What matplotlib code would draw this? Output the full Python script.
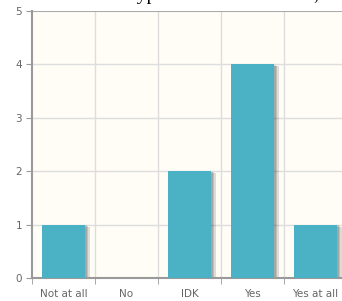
import numpy as np
import matplotlib.pyplot as plt
from matplotlib.patches import Rectangle

# data
categories = ['Not at all', 'No', 'IDK', 'Yes', 'Yes at all']
counts = [1, 0, 2, 4, 1]
yticks = [0, 1, 2, 3, 4, 5]

fig = plt.figure(figsize=(3.42, 3.01), dpi=100)
ax = fig.add_axes([32/342, 23/301, 315/342, 267/301])
ax.set_facecolor('#fffdf6')

x = np.arange(len(categories)) + 0.5
w = 43/63

# shadow layers under the bars
for k in range(1, 4):
    off = k * 1.6/63
    for xi, c in zip(x, counts):
        if c > 0:
            ax.add_patch(Rectangle((xi - w/2 + off, 0), w, c - k*0.012,
                                   facecolor='black', alpha=0.13, lw=0, zorder=2))
ax.bar(x, counts, width=w, color='#4bb2c5', zorder=3)

ax.set_xlim(0, len(categories))
ax.set_ylim(0, 5)
ax.set_xticks(x)
ax.set_xticklabels(categories)
ax.set_xticks(np.arange(0, len(categories) + 1), minor=True)
ax.set_yticks(yticks)

ax.grid(False)
for v in range(1, 5):
    ax.axhline(v, color='#dddddd', lw=1, zorder=1)
    ax.axvline(v, color='#dddddd', lw=1, zorder=1)
ax.axhline(5, color='#aaaaaa', lw=1.5, zorder=1)

for s in ['top', 'right']:
    ax.spines[s].set_visible(False)
for s in ['left', 'bottom']:
    ax.spines[s].set_color('#999999')
    ax.spines[s].set_linewidth(1.5)

ax.tick_params(axis='x', which='major', length=0, pad=8, labelsize=7.5, labelcolor='#666666')
ax.tick_params(axis='x', which='minor', length=4, color='#999999')
ax.tick_params(axis='y', length=4, color='#999999', labelsize=7.5, labelcolor='#666666', pad=3)

# title, mostly cut off by the top edge (as in the reference)
fig.text(127/342, 1.0, 'hypothesis is confirmed,', family='Liberation Serif',
         fontsize=14, ha='left', va='baseline')

fig.savefig('out.png', dpi=100)
